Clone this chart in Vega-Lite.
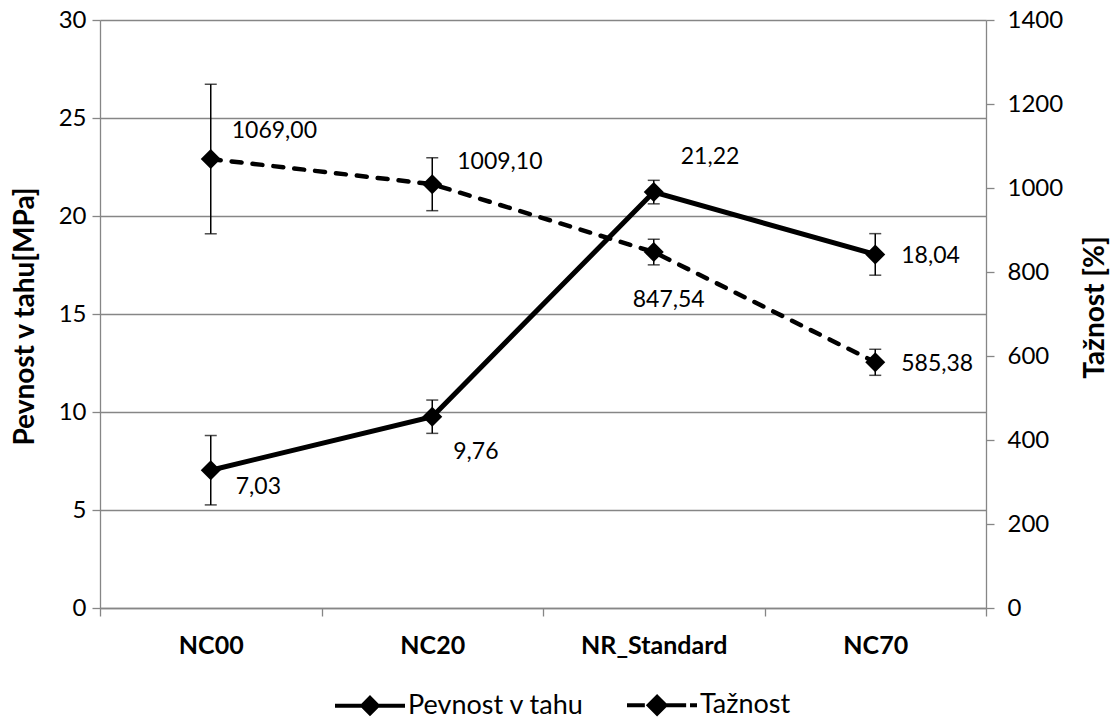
{
  "$schema": "https://vega.github.io/schema/vega-lite/v6.json",
  "width": 886,
  "height": 588,
  "autosize": {"type": "none"},
  "padding": {"left": 100, "top": 20, "right": 127, "bottom": 112},
  "background": "white",
  "config": {
    "view": {"stroke": null},
    "font": "Lato",
    "locale": {"number": {"decimal": ",", "thousands": "", "grouping": [3], "currency": ["", ""]}},
    "axis": {
      "labelFont": "Lato", "labelFontSize": 24, "labelColor": "black",
      "titleFont": "Lato", "titleFontSize": 28, "titleFontWeight": "bold", "titleColor": "black",
      "domainColor": "#868686", "tickColor": "#868686", "gridColor": "#868686",
      "domainWidth": 1.3, "tickWidth": 1.3, "gridWidth": 1.3, "tickSize": 8
    }
  },
  "data": {"values": [
    {"k": "NC00", "p": 7.03, "p_lo": 5.26, "p_hi": 8.80, "t": 1069.00, "t_lo": 891, "t_hi": 1247},
    {"k": "NC20", "p": 9.76, "p_lo": 8.91, "p_hi": 10.61, "t": 1009.10, "t_lo": 946, "t_hi": 1072},
    {"k": "NR_Standard", "p": 21.22, "p_lo": 20.62, "p_hi": 21.82, "t": 847.54, "t_lo": 817, "t_hi": 878},
    {"k": "NC70", "p": 18.04, "p_lo": 16.98, "p_hi": 19.10, "t": 585.38, "t_lo": 554, "t_hi": 616}
  ]},
  "layer": [
    {
      "encoding": {
        "x": {"field": "k", "type": "nominal", "sort": null,
              "scale": {"type": "band", "paddingInner": 0, "paddingOuter": 0},
              "axis": {"title": null, "labelAngle": 0, "labelFontWeight": "bold", "labelFontSize": 25, "tickBand": "extent", "labelPadding": 17}}
      },
      "layer": [
        {"mark": {"type": "line", "color": "black", "strokeWidth": 5},
         "encoding": {"y": {"field": "p", "type": "quantitative", "title": "Pevnost v tahu[MPa]",
            "scale": {"domain": [0, 30]},
            "axis": {"values": [0, 5, 10, 15, 20, 25, 30], "format": "d", "grid": true, "labelPadding": 6,
                     "titleX": -75, "titleY": 296, "titleAngle": 270, "titleBaseline": "middle", "titleAlign": "center"}}}},
        {"mark": {"type": "rule", "color": "black", "strokeWidth": 1.5},
         "encoding": {"y": {"field": "p_lo", "type": "quantitative", "title": "Pevnost v tahu[MPa]"}, "y2": {"field": "p_hi"}}},
        {"mark": {"type": "tick", "color": "black", "thickness": 1.5, "size": 12},
         "encoding": {"y": {"field": "p_lo", "type": "quantitative", "title": "Pevnost v tahu[MPa]"}}},
        {"mark": {"type": "tick", "color": "black", "thickness": 1.5, "size": 12},
         "encoding": {"y": {"field": "p_hi", "type": "quantitative", "title": "Pevnost v tahu[MPa]"}}},
        {"mark": {"type": "point", "shape": "diamond", "filled": true, "color": "black", "size": 400, "opacity": 1},
         "encoding": {"y": {"field": "p", "type": "quantitative", "title": "Pevnost v tahu[MPa]"}}},
        {"transform": [{"filter": {"field": "k", "equal": "NC00"}}],
         "mark": {"type": "text", "align": "left", "baseline": "middle", "dx": 25, "dy": 17, "fontSize": 23, "font": "Lato", "color": "black"},
         "encoding": {"y": {"field": "p", "type": "quantitative", "title": "Pevnost v tahu[MPa]"}, "text": {"field": "p", "type": "quantitative", "format": ".2f"}}},
        {"transform": [{"filter": {"field": "k", "equal": "NC20"}}],
         "mark": {"type": "text", "align": "left", "baseline": "middle", "dx": 21, "dy": 35, "fontSize": 23, "font": "Lato", "color": "black"},
         "encoding": {"y": {"field": "p", "type": "quantitative", "title": "Pevnost v tahu[MPa]"}, "text": {"field": "p", "type": "quantitative", "format": ".2f"}}},
        {"transform": [{"filter": {"field": "k", "equal": "NR_Standard"}}],
         "mark": {"type": "text", "align": "left", "baseline": "middle", "dx": 27, "dy": -35, "fontSize": 23, "font": "Lato", "color": "black"},
         "encoding": {"y": {"field": "p", "type": "quantitative", "title": "Pevnost v tahu[MPa]"}, "text": {"field": "p", "type": "quantitative", "format": ".2f"}}},
        {"transform": [{"filter": {"field": "k", "equal": "NC70"}}],
         "mark": {"type": "text", "align": "left", "baseline": "middle", "dx": 26, "dy": 2, "fontSize": 23, "font": "Lato", "color": "black"},
         "encoding": {"y": {"field": "p", "type": "quantitative", "title": "Pevnost v tahu[MPa]"}, "text": {"field": "p", "type": "quantitative", "format": ".2f"}}}
      ]
    },
    {
      "encoding": {
        "x": {"field": "k", "type": "nominal", "sort": null,
              "scale": {"type": "band", "paddingInner": 0, "paddingOuter": 0},
              "axis": {"title": null, "labelAngle": 0, "labelFontWeight": "bold", "labelFontSize": 25, "tickBand": "extent", "labelPadding": 17}}
      },
      "layer": [
        {"mark": {"type": "line", "color": "black", "strokeWidth": 4.5, "strokeDash": [10, 11], "strokeCap": "round"},
         "encoding": {"y": {"field": "t", "type": "quantitative", "title": "Tažnost [%]",
            "scale": {"domain": [0, 1400]},
            "axis": {"orient": "right", "values": [0, 200, 400, 600, 800, 1000, 1200, 1400], "format": "d", "grid": false, "labelPadding": 13,
                     "titleX": 109, "titleY": 287, "titleAngle": 270, "titleBaseline": "middle", "titleAlign": "center"}}}},
        {"mark": {"type": "rule", "color": "black", "strokeWidth": 1.5},
         "encoding": {"y": {"field": "t_lo", "type": "quantitative", "title": "Tažnost [%]"}, "y2": {"field": "t_hi"}}},
        {"mark": {"type": "tick", "color": "black", "thickness": 1.5, "size": 12},
         "encoding": {"y": {"field": "t_lo", "type": "quantitative", "title": "Tažnost [%]"}}},
        {"mark": {"type": "tick", "color": "black", "thickness": 1.5, "size": 12},
         "encoding": {"y": {"field": "t_hi", "type": "quantitative", "title": "Tažnost [%]"}}},
        {"mark": {"type": "point", "shape": "diamond", "filled": true, "color": "black", "size": 400, "opacity": 1},
         "encoding": {"y": {"field": "t", "type": "quantitative", "title": "Tažnost [%]"}}},
        {"transform": [{"filter": {"field": "k", "equal": "NC00"}}],
         "mark": {"type": "text", "align": "left", "baseline": "middle", "dx": 21, "dy": -28, "fontSize": 23, "font": "Lato", "color": "black"},
         "encoding": {"y": {"field": "t", "type": "quantitative", "title": "Tažnost [%]"}, "text": {"field": "t", "type": "quantitative", "format": ".2f"}}},
        {"transform": [{"filter": {"field": "k", "equal": "NC20"}}],
         "mark": {"type": "text", "align": "left", "baseline": "middle", "dx": 25, "dy": -22, "fontSize": 23, "font": "Lato", "color": "black"},
         "encoding": {"y": {"field": "t", "type": "quantitative", "title": "Tažnost [%]"}, "text": {"field": "t", "type": "quantitative", "format": ".2f"}}},
        {"transform": [{"filter": {"field": "k", "equal": "NR_Standard"}}],
         "mark": {"type": "text", "align": "left", "baseline": "middle", "dx": -21, "dy": 48, "fontSize": 23, "font": "Lato", "color": "black"},
         "encoding": {"y": {"field": "t", "type": "quantitative", "title": "Tažnost [%]"}, "text": {"field": "t", "type": "quantitative", "format": ".2f"}}},
        {"transform": [{"filter": {"field": "k", "equal": "NC70"}}],
         "mark": {"type": "text", "align": "left", "baseline": "middle", "dx": 26, "dy": 2, "fontSize": 23, "font": "Lato", "color": "black"},
         "encoding": {"y": {"field": "t", "type": "quantitative", "title": "Tažnost [%]"}, "text": {"field": "t", "type": "quantitative", "format": ".2f"}}}
      ]
    },
    {
      "data": {"values": [{"s": "Pevnost v tahu"}, {"s": "Tažnost"}]},
      "mark": {"type": "point", "filled": false, "color": "black", "strokeWidth": 4, "opacity": 0},
      "encoding": {
        "shape": {"field": "s", "type": "nominal", "sort": null,
          "scale": {"domain": ["Pevnost v tahu", "Tažnost"],
                    "range": ["M-1,0L1,0M0,-0.22L0.22,0L0,0.22L-0.22,0ZM0,-0.12L0.12,0L0,0.12L-0.12,0ZM0,-0.03L0.03,0L0,0.03L-0.03,0Z",
                              "M-1,0L-0.49,0M0.12,0L0.69,0M0.8,0L1,0M-0.14,-0.24L0.1,0L-0.14,0.24L-0.38,0ZM-0.14,-0.13L-0.01,0L-0.14,0.13L-0.27,0ZM-0.14,-0.03L-0.11,0L-0.14,0.03L-0.17,0Z"]},
          "legend": {"title": null, "orient": "none", "legendX": 233, "legendY": 648, "direction": "horizontal",
                     "symbolSize": 4900, "labelFontSize": 27, "labelFont": "Lato", "labelColor": "black", "labelLimit": 400,
                     "labelOffset": 1, "columnPadding": 34, "padding": 0,
                     "symbolOpacity": 1, "symbolFillColor": "black", "symbolStrokeColor": "black", "symbolStrokeWidth": 4}
        }
      }
    }
  ],
  "resolve": {"scale": {"y": "independent"}}
}
